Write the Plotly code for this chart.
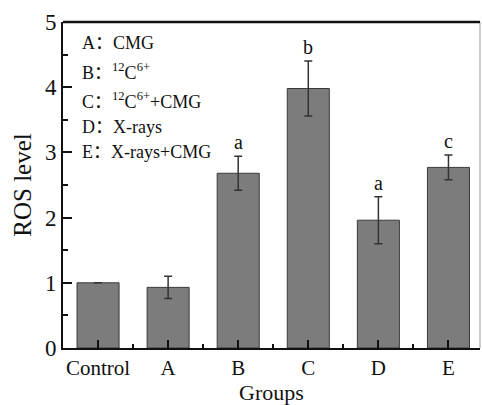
import plotly.graph_objects as go

groups = ["Control", "A", "B", "C", "D", "E"]
ros_level = [1.00, 0.93, 2.68, 3.98, 1.96, 2.77]
ros_error = [0.0, 0.17, 0.26, 0.42, 0.36, 0.19]
sig_letters = ["", "", "a", "b", "a", "c"]
legend_lines = [
    "A\uff1aCMG",
    "B\uff1a<sup>12</sup>C<sup>6+</sup>",
    "C\uff1a<sup>12</sup>C<sup>6+</sup>+CMG",
    "D\uff1aX-rays",
    "E\uff1aX-rays+CMG",
]
y_ticks = [0, 1, 2, 3, 4, 5]

FONT = "Liberation Serif, Noto Sans CJK SC, serif"
x_pos = list(range(len(groups)))

fig = go.Figure()
fig.add_trace(go.Bar(
    x=x_pos, y=ros_level, width=0.6,
    marker=dict(color="#7c7c7c", line=dict(color="#3a3a3a", width=1)),
    error_y=dict(type="data", array=ros_error, visible=True,
                 color="#333333", thickness=1.5, width=4),
    showlegend=False,
))

# significance letters
for xi, v, e, s in zip(x_pos, ros_level, ros_error, sig_letters):
    if s:
        fig.add_annotation(x=xi, y=v + e, xref="x", yref="y", text=s,
                           showarrow=False, yanchor="bottom", yshift=1,
                           font=dict(family=FONT, size=20, color="#111"))

# in-plot legend text
legend_px = [43, 72, 101, 127, 152]
for txt, py in zip(legend_lines, legend_px):
    fig.add_annotation(x=0.04, y=(348.3 - py) / 326.3, xref="paper", yref="paper",
                       text=txt, showarrow=False, xanchor="left", yanchor="middle",
                       font=dict(family=FONT, size=18, color="#111"))

# light right border
fig.add_shape(type="line", xref="paper", yref="paper", x0=1, x1=1, y0=0, y1=1,
              line=dict(color="#bbbbbb", width=1.5))

fig.update_layout(
    width=482, height=405,
    margin=dict(l=63, r=2, t=22, b=57),
    plot_bgcolor="white", paper_bgcolor="white",
    font=dict(family=FONT, color="#111"),
    bargap=0.4,
)
fig.update_xaxes(
    range=[-0.5, 5.45], automargin=False,
    tickmode="array", tickvals=x_pos, ticktext=groups,
    ticks="inside", ticklen=8, tickwidth=2, tickcolor="#111",
    minor=dict(tickvals=[i + 0.5 for i in x_pos[:-1]], ticks="inside",
               ticklen=4, tickwidth=2, tickcolor="#111"),
    showline=True, linecolor="#111", linewidth=2, mirror=False,
    showgrid=False, zeroline=False,
    tickfont=dict(family=FONT, size=21, color="#111"),
    title=dict(text="Groups", font=dict(family=FONT, size=22, color="#111"), standoff=13),
)
fig.update_yaxes(
    range=[0, 5], automargin=False,
    tickmode="array", tickvals=y_ticks,
    ticks="inside", ticklen=9, tickwidth=2, tickcolor="#111",
    minor=dict(dtick=0.5, ticks="inside", ticklen=5, tickwidth=2, tickcolor="#111"),
    showline=True, linecolor="#111", linewidth=2,
    showgrid=False, zeroline=False,
    tickfont=dict(family=FONT, size=23, color="#111"),
    title=dict(text="ROS level", font=dict(family=FONT, size=25, color="#111"), standoff=6),
)
# thick top border
fig.add_shape(type="line", xref="paper", yref="paper", x0=0, x1=1, y0=1, y1=1,
              line=dict(color="#111", width=2.5))

fig.write_html("out.html")
